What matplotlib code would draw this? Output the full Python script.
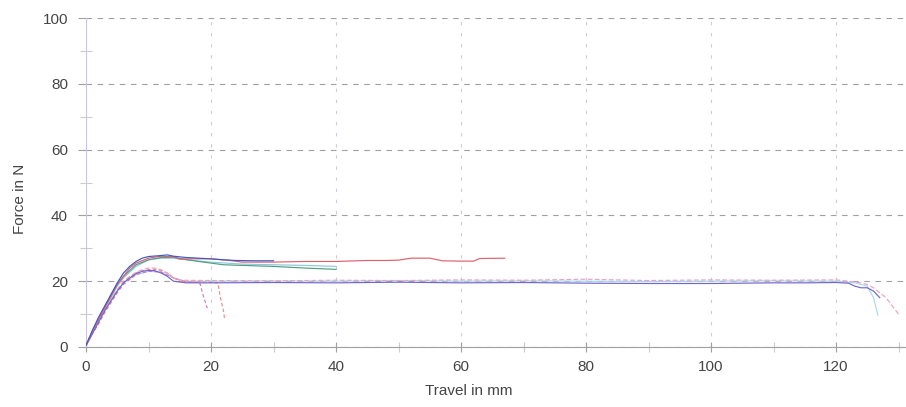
import numpy as np
import matplotlib.pyplot as plt

plt.rcParams['font.family'] = ['Liberation Sans', 'DejaVu Sans']

# Force / travel curves of the individual specimens
travel_blue = [0, 1, 2, 3, 4, 5, 6, 7, 8, 9, 10, 12, 13, 14, 16, 18, 20, 22, 24, 27, 30]
force_blue = [0.5, 5, 9, 12.5, 16, 19.5, 22.5, 24.5, 26, 27, 27.5, 27.8, 28, 27.6, 27.2,
              27, 26.8, 26.5, 26.3, 26.2, 26.2]

travel_red = [0, 1, 2, 3, 4, 5, 6, 7, 8, 10, 12, 14, 15, 17, 20, 23, 25, 30, 35, 40, 45,
              48, 50, 52, 55, 57, 60, 62, 63, 67]
force_red = [0.5, 4.5, 8.5, 12, 15.5, 19, 21.5, 24, 25.5, 27, 27.6, 27.4, 26.7, 26.8,
             26.8, 26.3, 25.8, 25.8, 26, 26, 26.3, 26.3, 26.4, 27, 27, 26.2, 26.1, 26.1,
             26.9, 27]

travel_green = [0, 1, 2, 3, 4, 5, 6, 8, 10, 12, 14, 16, 18, 20, 22, 25, 30, 35, 40]
force_green = [0.5, 4, 8, 12, 15.5, 19, 21.5, 25, 26.5, 27.2, 27.3, 26.6, 26, 25.5, 25,
               24.8, 24.5, 24, 23.6]

travel_cyan = [0, 1, 2, 3, 4, 5, 6, 8, 10, 12, 14, 16, 20, 25, 30, 35, 40]
force_cyan = [0.5, 4.5, 8, 11.5, 15, 18.5, 21, 24.5, 26.5, 27, 27, 26.5, 25.8, 25.2, 25,
              24.8, 24.5]

travel_purple = [0, 1, 2, 3, 4, 5, 6, 7, 8, 9, 10, 11, 12, 13, 14, 16, 20, 30, 40, 50,
                 60, 70, 80, 90, 100, 110, 115, 120, 122, 123, 124, 125, 126, 127]
force_purple = [0.5, 4, 7.5, 11, 14, 17, 19.5, 21, 22.3, 23, 23.3, 23.2, 22.5, 21.5, 20,
                19.5, 19.5, 19.6, 19.5, 19.7, 19.5, 19.6, 19.4, 19.3, 19.3, 19.5, 19.5,
                19.6, 19.4, 18.5, 18, 18, 17, 15]

travel_pink = [0, 1, 2, 3, 4, 5, 6, 7, 8, 9, 10, 11, 12, 13, 14, 15, 20, 30, 40, 50, 60,
               70, 80, 90, 100, 110, 120, 122, 124, 125, 126, 127, 128, 129, 130]
force_pink = [0.5, 4.5, 8, 11.5, 14.5, 17.5, 20, 21.5, 22.7, 23.5, 24, 24, 23.5, 22.5,
              21, 20.3, 20.2, 20.1, 20.3, 20.2, 20.4, 20.3, 20.6, 20.2, 20.4, 20.3, 20.4,
              20, 19.5, 19, 18, 16.5, 15, 12.5, 10]

travel_light = [0, 2, 4, 6, 8, 10, 12, 14, 16, 20, 30, 40, 50, 60, 70, 80, 90, 100, 110,
                120, 123, 125, 126, 126.7]
force_light = [0.5, 8, 14.5, 19.5, 22, 23, 22.8, 21, 20, 20, 20.1, 20, 20.2, 20, 20.1,
               20, 19.9, 20, 20.1, 20, 19.5, 18.5, 15, 9.7]

travel_red2 = [0, 1, 2, 3, 4, 5, 6, 7, 8, 9, 10, 11, 12, 13, 14, 15, 16, 18, 20, 20.5,
               21.1, 21.5, 22, 22.2]
force_red2 = [0.5, 4, 7.5, 11, 14, 17, 19.5, 21, 22.5, 23.2, 23.5, 23.6, 23.2, 22.5, 21,
              20, 19.8, 19.8, 19.6, 19.5, 19.5, 15, 11, 8.2]

travel_magenta = [0, 1, 2, 3, 4, 5, 6, 8, 10, 12, 14, 16, 18, 18.2, 18.7, 19.4]
force_magenta = [0.5, 4, 7, 10.5, 13.5, 16.5, 19, 22, 23, 22.8, 21, 19.8, 19.6, 19.5,
                 16, 11.8]

curves = [
    (travel_light, force_light, '#a8d8ec', '-'),
    (travel_cyan, force_cyan, '#8cc8e0', '-'),
    (travel_green, force_green, '#4f9f80', '-'),
    (travel_red2, force_red2, '#ec8c8c', (0, (3, 2))),
    (travel_magenta, force_magenta, '#d47ab8', (0, (3, 2))),
    (travel_pink, force_pink, '#f0a0c0', (0, (4, 2))),
    (travel_purple, force_purple, '#6f68cc', '-'),
    (travel_red, force_red, '#e0606e', '-'),
    (travel_blue, force_blue, '#3f58c4', '-'),
]

fig = plt.figure(figsize=(9.06, 4.07), dpi=100)
ax = fig.add_axes([86 / 906, 60 / 407, 820 / 906, 329 / 407])

for x, y, c, ls in curves:
    ax.plot(x, y, color=c, lw=0.85, ls=ls, zorder=3)

ax.set_xlim(0, 131.2)
ax.set_ylim(0, 100)
ax.set_xticks(np.arange(0, 121, 20))
ax.set_xticks(np.arange(10, 131, 20), minor=True)
ax.set_yticks(np.arange(0, 101, 20))
ax.set_yticks(np.arange(10, 100, 20), minor=True)

# dashed grid: darker horizontals, faint verticals
ax.yaxis.grid(True, color='#a0a0a0', ls=(0, (5, 5)), lw=0.8, zorder=1)
ax.xaxis.grid(True, color='#d2cad8', ls=(0, (3, 7)), lw=0.8, zorder=1)

for side in ['top', 'right']:
    ax.spines[side].set_visible(False)
ax.spines['left'].set_color('#cdc6e2')
ax.spines['bottom'].set_color('#a0a0a0')
ax.spines['left'].set_linewidth(0.8)
ax.spines['bottom'].set_linewidth(0.8)

ax.tick_params(axis='y', which='major', direction='out', length=6, width=0.8,
               color='#a0a0a0', pad=7, labelsize=11, labelcolor='#454545')
ax.tick_params(axis='y', which='minor', direction='inout', length=8, width=0.8,
               color='#cccccc')
ax.tick_params(axis='x', which='major', direction='inout', length=7, width=0.8,
               color='#a0a0a0', pad=6, labelsize=11, labelcolor='#454545')
ax.tick_params(axis='x', which='minor', direction='inout', length=7, width=0.8,
               color='#cccccc')

ax.set_xlabel('Travel in mm', fontsize=11, color='#454545')
ax.set_ylabel('Force in N', fontsize=11, color='#454545')
ax.xaxis.set_label_coords(0.467, -0.112)
ax.yaxis.set_label_coords(-0.072, 0.45)

fig.savefig('out.png', dpi=100)
